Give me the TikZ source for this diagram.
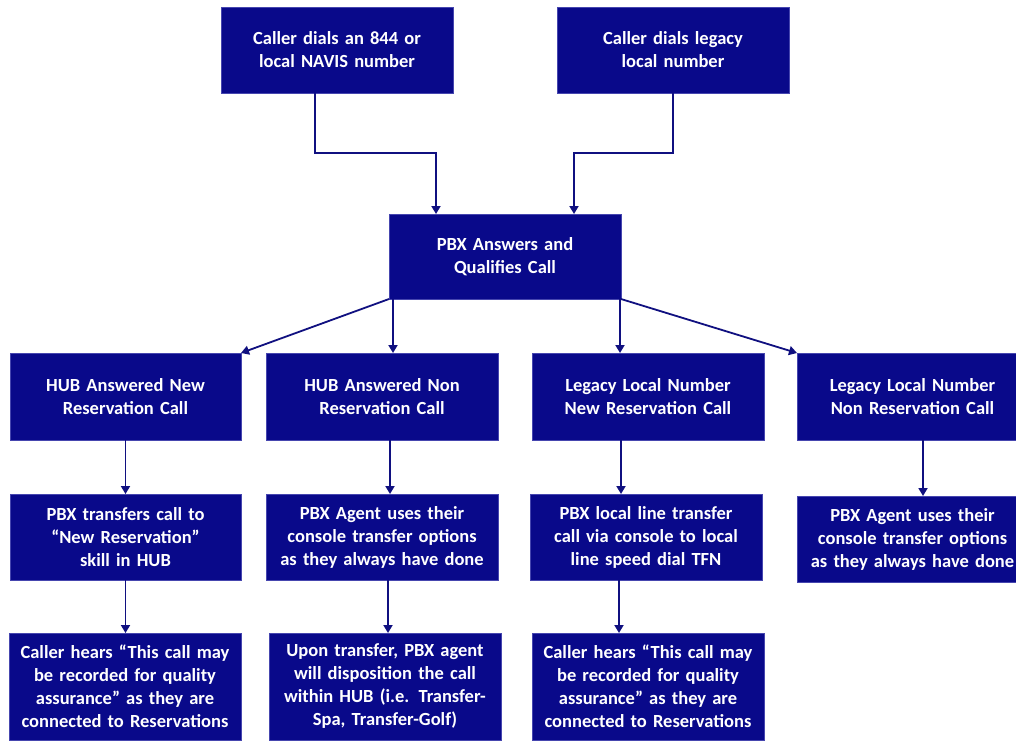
\documentclass[tikz,border=0pt]{standalone}
\usepackage{fontspec}
\setmainfont{Carlito}
\usetikzlibrary{arrows.meta}
\definecolor{navy}{RGB}{9,9,138}
\definecolor{navyedge}{RGB}{70,70,175}
\definecolor{linkblue}{RGB}{16,16,128}
\tikzset{
  flowbox/.style={rectangle, fill=navy, draw=navyedge, line width=0.6pt,
    minimum width=232pt, minimum height=86pt, inner sep=0pt, outer sep=0pt,
    text width=226pt, align=center, text=white,
    font=\bfseries\fontsize{18.5}{23}\selectfont},
  arr/.style={draw=linkblue, line width=1.8pt,
    -{Triangle[width=9pt,length=8pt]}}
}
\begin{document}
\begin{tikzpicture}[x=1pt,y=-1pt]
\useasboundingbox (0,0) rectangle (1016,740);
\fill[white] (0,0) rectangle (1016,740);
% top row
\node[flowbox] (tl) at (337,50) {Caller dials an 844 or\\local NAVIS number};
\node[flowbox] (tr) at (673,50) {Caller dials legacy\\local number};
\node[flowbox, minimum height=85pt] (pbx) at (505,256.5) {PBX Answers and\\Qualifies Call};
% row 2
\node[flowbox, minimum width=231pt, minimum height=87pt] (r2a) at (125.5,396.5) {HUB Answered New\\Reservation Call};
\node[flowbox, minimum height=87pt] (r2b) at (382,396.5) {HUB Answered Non\\Reservation Call};
\node[flowbox, minimum height=87pt] (r2c) at (648,396.5) {Legacy Local Number\\New Reservation Call};
\node[flowbox, minimum width=231pt, minimum height=87pt] (r2d) at (912.5,396.5) {Legacy Local Number\\Non Reservation Call};
% row 3
\node[flowbox, minimum width=231pt] (r3a) at (125.5,537) {PBX transfers call to\\“New Reservation”\\skill in HUB};
\node[flowbox] (r3b) at (382,537) {PBX Agent uses their\\console transfer options\\as they always have done};
\node[flowbox] (r3c) at (646,537) {PBX local line transfer\\call via console to local\\line speed dial TFN};
\node[flowbox, minimum width=231pt] (r3d) at (912.5,539) {PBX Agent uses their\\console transfer options\\as they always have done};
% row 4
\node[flowbox, minimum height=107pt] (r4a) at (125,686.5) {Caller hears “This call may\\be recorded for quality\\assurance” as they are\\connected to Reservations};
\node[flowbox, minimum height=107pt] (r4b) at (385,686.5) {Upon transfer, PBX agent\\will disposition the call\\within HUB (i.e. Transfer-\\Spa, Transfer-Golf)};
\node[flowbox, minimum height=107pt] (r4c) at (648,686.5) {Caller hears “This call may\\be recorded for quality\\assurance” as they are\\connected to Reservations};
% connectors
\draw[arr] ([xshift=-22pt]tl.south) -- ++(0,60) -| ([xshift=-69pt]pbx.north);
\draw[arr] (tr.south) -- ++(0,60) -| ([xshift=69pt]pbx.north);
\draw[arr] (pbx.south west) -- (r2a.north east);
\draw[arr] ([xshift=-112pt]pbx.south) -- ([xshift=11pt]r2b.north);
\draw[arr] ([xshift=115pt]pbx.south) -- ([xshift=-28pt]r2c.north);
\draw[arr] (pbx.south east) -- (r2d.north west);
\draw[arr] (r2a.south) -- (r3a.north);
\draw[arr] ([xshift=8pt]r2b.south) -- ([xshift=8pt]r3b.north);
\draw[arr] ([xshift=-27pt]r2c.south) -- ([xshift=-25pt]r3c.north);
\draw[arr] ([xshift=10.5pt]r2d.south) -- ([xshift=10.5pt]r3d.north);
\draw[arr] (r3a.south) -- (r3a.south |- r4a.north);
\draw[arr] ([xshift=6pt]r3b.south) -- ([xshift=3pt]r4b.north);
\draw[arr] ([xshift=-27pt]r3c.south) -- ([xshift=-29pt]r4c.north);
\end{tikzpicture}
\end{document}
